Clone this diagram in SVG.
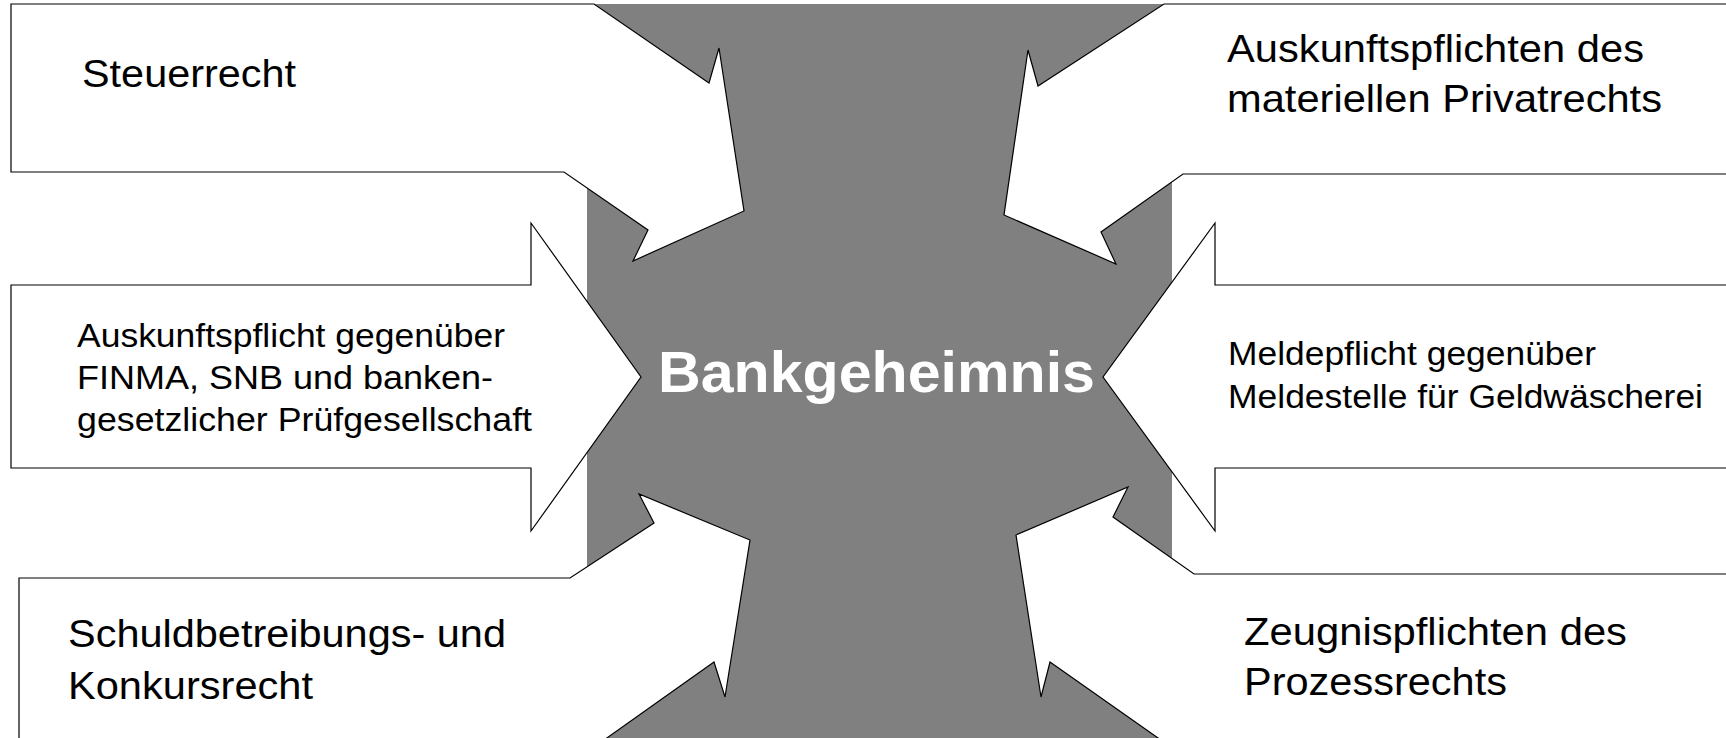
<svg xmlns="http://www.w3.org/2000/svg" width="1726" height="738" viewBox="0 0 1726 738">
<style>
.bg{fill:#ffffff}
.core{fill:#808080;stroke:none}
.arr{fill:#ffffff;stroke:#000000;stroke-width:1.2;stroke-linejoin:miter}
.big{font-family:"Liberation Sans",Arial,sans-serif;font-size:39px;fill:#000000}
.small{font-family:"Liberation Sans",Arial,sans-serif;font-size:33px;fill:#000000}
.title{font-family:"Liberation Sans",Arial,sans-serif;font-size:57px;font-weight:bold;fill:#ffffff}
</style>
<rect class="bg" x="0" y="0" width="1726" height="738"/>
<g id="bankgeheimnis">
<rect class="core" x="587" y="4" width="585" height="740"/>
<text class="title" x="658" y="392" textLength="437" lengthAdjust="spacingAndGlyphs">Bankgeheimnis</text>
</g>
<g id="steuerrecht">
<polygon class="arr" points="11,4 594,4 709,83 719,48 744,211 633,261 648,230 564,172 11,172"/>
<text class="big" x="82" y="87" textLength="214" lengthAdjust="spacingAndGlyphs">Steuerrecht</text>
</g>
<g id="privatrecht">
<polygon class="arr" points="1164,4 1730,4 1730,174 1183,174 1101,232 1116,264 1004,215 1028,50 1038,86"/>
<text class="big" x="1227" y="62" textLength="417" lengthAdjust="spacingAndGlyphs">Auskunftspflichten des</text>
<text class="big" x="1227" y="112" textLength="435" lengthAdjust="spacingAndGlyphs">materiellen Privatrechts</text>
</g>
<g id="finma">
<polygon class="arr" points="11,285 531,285 531,223 641,377 531,531 531,468 11,468"/>
<text class="small" x="77" y="347" textLength="428" lengthAdjust="spacingAndGlyphs">Auskunftspflicht gegenüber</text>
<text class="small" x="77" y="389" textLength="416" lengthAdjust="spacingAndGlyphs">FINMA, SNB und banken-</text>
<text class="small" x="77" y="431" textLength="455" lengthAdjust="spacingAndGlyphs">gesetzlicher Prüfgesellschaft</text>
</g>
<g id="meldepflicht">
<polygon class="arr" points="1730,285 1215,285 1215,223 1103,377 1215,531 1215,468 1730,468"/>
<text class="small" x="1228" y="365" textLength="368" lengthAdjust="spacingAndGlyphs">Meldepflicht gegenüber</text>
<text class="small" x="1228" y="408" textLength="475" lengthAdjust="spacingAndGlyphs">Meldestelle für Geldwäscherei</text>
</g>
<g id="schuldbetreibung">
<polygon class="arr" points="19,745 19,578 570,578 654,523 639,494 750,540 725,697 714,662 597,745"/>
<text class="big" x="68" y="647" textLength="438" lengthAdjust="spacingAndGlyphs">Schuldbetreibungs- und</text>
<text class="big" x="68" y="699" textLength="245" lengthAdjust="spacingAndGlyphs">Konkursrecht</text>
</g>
<g id="prozessrecht">
<polygon class="arr" points="1730,574 1194,574 1113,517 1128,487 1016,535 1041,697 1050,662 1168,745 1730,745"/>
<text class="big" x="1244" y="645" textLength="383" lengthAdjust="spacingAndGlyphs">Zeugnispflichten des</text>
<text class="big" x="1244" y="695" textLength="263" lengthAdjust="spacingAndGlyphs">Prozessrechts</text>
</g>
<g id="connectors"/>
</svg>
